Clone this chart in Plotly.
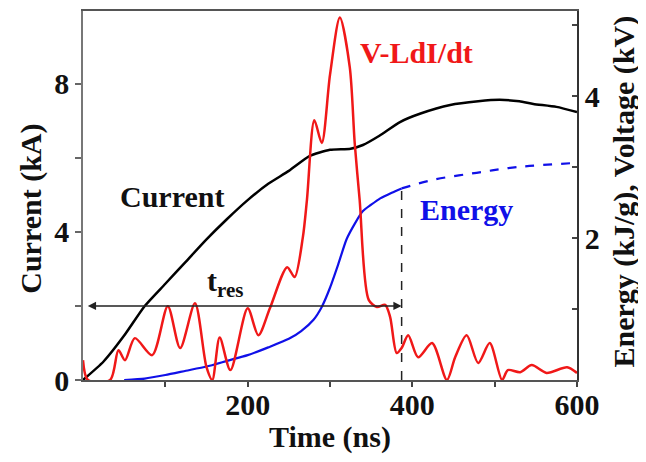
import plotly.graph_objects as go

# Current (kA), left axis
t_cur = [0, 25, 50, 75, 100, 125, 150, 175, 200, 225, 250, 275, 300, 325, 340, 360,
         385, 410, 446, 480, 506, 530, 547, 575, 600]
current = [0, 0.5, 1.2, 2.0, 2.6, 3.2, 3.8, 4.35, 4.86, 5.3, 5.65, 6.05, 6.22, 6.25,
           6.35, 6.6, 6.97, 7.2, 7.43, 7.53, 7.57, 7.53, 7.46, 7.38, 7.24]

# Energy (kJ/g), right axis - solid part
t_en = [50, 75, 100, 125, 150, 175, 200, 225, 250, 265, 280, 290, 300, 310, 320, 330,
        340, 350, 361, 375, 387]
energy = [0, 0.02, 0.07, 0.13, 0.19, 0.27, 0.35, 0.46, 0.58, 0.69, 0.85, 1.03, 1.3,
          1.63, 1.98, 2.2, 2.38, 2.47, 2.56, 2.64, 2.7]
# Energy - dashed continuation
t_en2 = [387, 425, 478, 527, 600]
energy2 = [2.7, 2.82, 2.92, 3.0, 3.06]

# V-LdI/dt (kV), right axis
t_v = [0, 6, 33, 43, 51, 63, 84, 103, 118, 136, 150, 157, 166, 179, 200, 213, 227, 248,
       257, 267, 272, 281, 290, 300, 312, 324, 330, 336, 347, 357, 367, 373, 381, 387,
       395, 407, 424, 442, 452, 466, 480, 494, 509, 516, 531, 545, 563, 588, 600]
volt = [0.28, 0, 0, 0.42, 0.28, 0.59, 0.35, 1.04, 0.45, 1.08, 0.18, 0, 0.6, 0.14, 1.01,
        0.63, 1.01, 1.59, 1.45, 2.01, 2.54, 3.66, 3.34, 4.3, 5.11, 4.41, 3.34, 2.54, 1.13,
        1.03, 1.06, 0.89, 0.38, 0.45, 0.63, 0.32, 0.52, 0, 0.32, 0.63, 0.24, 0.52, 0,
        0.14, 0.11, 0.21, 0.1, 0.18, 0.1]

t_res_start = 4
t_res_end = 387
t_res_level = 2.0      # kA
vline_top = 5.35       # kA

x_ticks = [100, 200, 300, 400, 500, 600]
x_ticktext = ["", "200", "", "400", "", "600"]
y_ticks = [0, 2, 4, 6, 8]
y_ticktext = ["0", "", "4", "", "8"]
y2_ticks = [1, 2, 3, 4, 5]
y2_ticktext = ["", "2", "", "4", ""]

FONT = "Liberation Serif"
RED = "#f01818"
BLUE = "#1010e8"
SIZE = 30

fig = go.Figure()
fig.add_trace(go.Scatter(x=t_cur, y=current, mode="lines", line=dict(color="black", width=2.5, shape="spline", smoothing=0.6), yaxis="y"))
fig.add_trace(go.Scatter(x=[t_res_end, t_res_end], y=[0, vline_top], mode="lines",
                         line=dict(color="#222", width=1.5, dash="dash"), yaxis="y"))
fig.add_trace(go.Scatter(x=t_en, y=energy, mode="lines", line=dict(color=BLUE, width=2.2, shape="spline", smoothing=0.6), yaxis="y2"))
fig.add_trace(go.Scatter(x=t_en2, y=energy2, mode="lines", line=dict(color=BLUE, width=2.2, dash="dash", shape="spline"), yaxis="y2"))
fig.add_trace(go.Scatter(x=t_v, y=volt, mode="lines", line=dict(color=RED, width=2.5, shape="spline", smoothing=0.8), yaxis="y2"))

tick_font = dict(family=FONT, size=SIZE, color="#111", weight="bold")
# page body has an 8px margin, so the figure is sized/offset to compensate
fig.update_layout(
    width=638, height=454,
    margin=dict(l=75, r=69, t=3, b=82),
    paper_bgcolor="white", plot_bgcolor="white",
    showlegend=False,
    font=dict(family=FONT, size=SIZE, color="#111"),
    xaxis=dict(range=[0, 600], tickvals=x_ticks, ticktext=x_ticktext, ticks="outside", ticklen=5,
               tickwidth=1.5, tickcolor="#444", showline=True, linecolor="#555", linewidth=1.5,
               mirror=True, showgrid=False, zeroline=False, tickfont=tick_font, automargin=False,
               ticklabelstandoff=-8),
    yaxis=dict(range=[0, 9.97], tickvals=y_ticks, ticktext=y_ticktext, ticks="outside", ticklen=6,
               tickwidth=1.5, tickcolor="#666", showline=True, linecolor="#777", linewidth=1.5,
               showgrid=False, zeroline=False, tickfont=tick_font, automargin=False),
    yaxis2=dict(range=[0, 5.2], overlaying="y", side="right", tickvals=y2_ticks, ticktext=y2_ticktext,
                ticks="inside", ticklen=5, tickwidth=1.5, tickcolor="#444", showline=True,
                linecolor="#333", linewidth=1.5, showgrid=False, zeroline=False, tickfont=tick_font,
                automargin=False),
)

title_font = dict(family=FONT, size=SIZE, color="#111")
# Axis titles as paper-anchored text
fig.add_annotation(x=0.5, y=-0.155, xref="paper", yref="paper", yanchor="middle", text="<b>Time (ns)</b>",
                   showarrow=False, font=title_font)
fig.add_annotation(x=-0.143, y=0.465, xref="paper", yref="paper", textangle=-90, text="<b>Current (kA)</b>",
                   showarrow=False, font=title_font)
fig.add_annotation(x=1.133, y=0.51, xref="paper", yref="paper", textangle=-90,
                   text="<b>Energy (kJ/g), Voltage (kV)</b>", showarrow=False, font=title_font)

fig.add_annotation(x=t_res_end, y=t_res_level, ax=t_res_start, ay=t_res_level, xref="x", yref="y",
                   axref="x", ayref="y", text="", showarrow=True, arrowhead=2, arrowsize=1.1,
                   arrowwidth=1.5, arrowcolor="#222", arrowside="end+start")
fig.add_annotation(x=172, y=2.0, xref="x", yref="y", yanchor="bottom", yshift=2,
                   text="<b>t<sub>res</sub></b>", showarrow=False, font=dict(family=FONT, size=SIZE, color="#111"))
fig.add_annotation(x=108, y=4.95, xref="x", yref="y", text="<b>Current</b>", showarrow=False,
                   font=dict(family=FONT, size=SIZE, color="#111"))
fig.add_annotation(x=405, y=8.84, xref="x", yref="y", text="<b>V-LdI/dt</b>", showarrow=False,
                   font=dict(family=FONT, size=SIZE, color=RED))
fig.add_annotation(x=466, y=4.6, xref="x", yref="y", text="<b>Energy</b>", showarrow=False,
                   font=dict(family=FONT, size=SIZE, color=BLUE))

fig.write_html("out.html")
